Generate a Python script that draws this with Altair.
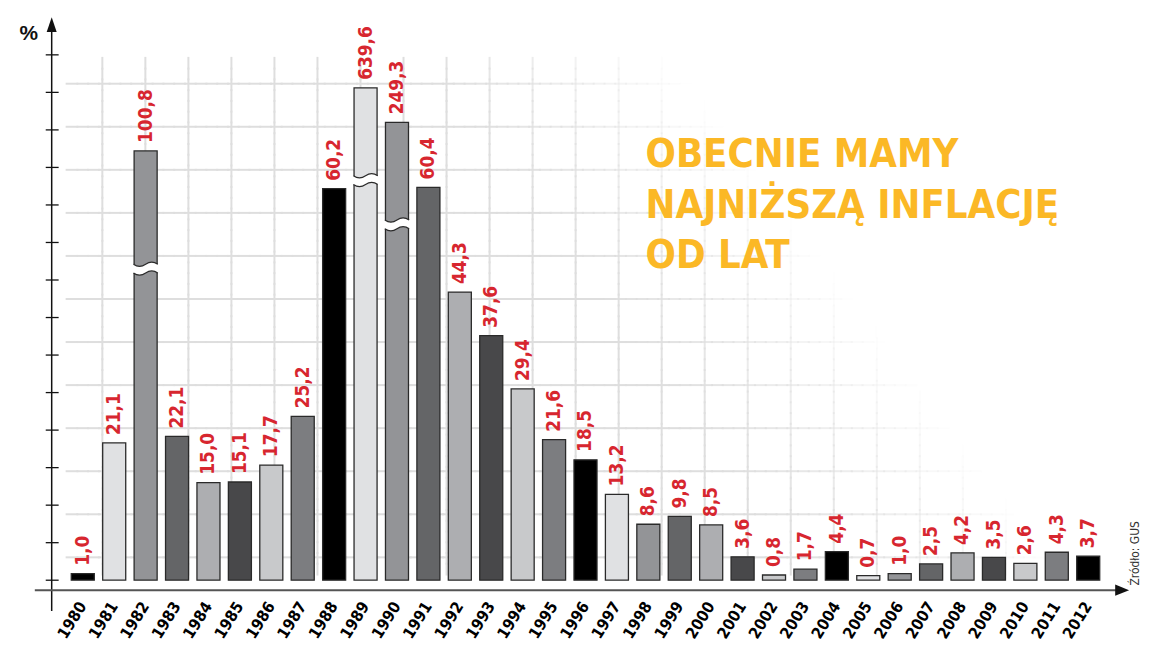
import altair as alt
import pandas as pd

# ---------------- data ----------------
years = ["1980", "1981", "1982", "1983", "1984", "1985", "1986", "1987", "1988", "1989",
         "1990", "1991", "1992", "1993", "1994", "1995", "1996", "1997", "1998", "1999",
         "2000", "2001", "2002", "2003", "2004", "2005", "2006", "2007", "2008", "2009",
         "2010", "2011", "2012"]
values = [1.0, 21.1, 100.8, 22.1, 15.0, 15.1, 17.7, 25.2, 60.2, 639.6,
          249.3, 60.4, 44.3, 37.6, 29.4, 21.6, 18.5, 13.2, 8.6, 9.8,
          8.5, 3.6, 0.8, 1.7, 4.4, 0.7, 1.0, 2.5, 4.2, 3.5,
          2.6, 4.3, 3.7]
# broken (shortened) bars: drawn height and the level of the break
broken_years = ["1982", "1989", "1990"]
broken_drawn = [66.0, 75.7, 70.4]
broken_at = [47.9, 61.5, 54.7]

palette = ["#000000", "#e0e1e3", "#939497", "#646567",
           "#adaeb1", "#48484a", "#c8c9cb", "#7c7d80"]

title_text = "OBECNIE MAMY\nNAJNIŻSZĄ INFLACJĘ\nOD LAT"
source_text = "Źródło: GUS"

# ---------------- layout ----------------
W, H = 1085, 577
NARROW = "DejaVu Sans Condensed, Liberation Sans Narrow, sans-serif"
RED = "#d7262f"

drawn_map = dict(zip(broken_years, broken_drawn))
df = pd.DataFrame({
    "year": years,
    "value": values,
    "drawn": [drawn_map.get(y, v) for y, v in zip(years, values)],
    "fill": [palette[i % len(palette)] for i in range(len(years))],
    "label": [f"{v:.1f}".replace(".", ",") for v in values],
})
df_breaks = pd.DataFrame({"year": broken_years, "at": broken_at})

x_scale = alt.Scale(type="band", domain=years, paddingInner=0.267, paddingOuter=0.779, align=0.40)
y_scale = alt.Scale(domain=[-1.527, 86.56], nice=False, zero=False)

# ---------------- decorative background grid (fading to the upper right) ----------------
GS = 43.33
gx_dom = [-51 / GS, (W - 51) / GS]
gy_dom = [-67 / 43.36, (H - 67) / 43.36]


def grid_opacity(c, r):
    f = 43.33 * c - 597 - 32.74 * r
    return max(0.0, min(1.0, -f / 260.0))


segs = []
step = 0.25
for r in range(12):
    c = -0.83
    while c < 23.5:
        c1 = min(c + step, 23.5)
        op = grid_opacity((c + c1) / 2, r)
        if op > 0.02:
            segs.append({"x": c, "x2": c1, "y": r, "y2": r, "op": op})
        c = c1
for c in range(23):
    r = -0.6
    while r < 11.4:
        r1 = min(r + step, 11.4)
        op = grid_opacity(c, (r + r1) / 2)
        if op > 0.02:
            segs.append({"x": c, "x2": c, "y": r, "y2": r1, "op": op})
        r = r1
df_grid = pd.DataFrame(segs)

grid = alt.Chart(df_grid).mark_rule(color="#dedede", strokeWidth=2, strokeCap="square").encode(
    x=alt.X("x:Q", scale=alt.Scale(domain=gx_dom, nice=False, zero=False), axis=None),
    x2="x2:Q",
    y=alt.Y("y:Q", scale=alt.Scale(domain=gy_dom, nice=False, zero=False, reverse=True), axis=None),
    y2="y2:Q",
    opacity=alt.Opacity("op:Q", scale=None),
)

# ---------------- axes (drawn) ----------------
one = pd.DataFrame({"a": [0]})
ticks = alt.Chart(pd.DataFrame({"k": list(range(15))})).mark_rule(color="#111", strokeWidth=1.3).encode(
    x=alt.value(-6), x2=alt.value(7),
    y=alt.Y("k:Q", scale=alt.Scale(domain=[-0.2646, 15.004], nice=False, zero=False), axis=None),
)
y_line = alt.Chart(one).mark_rule(color="#111", strokeWidth=1.5).encode(
    x=alt.value(0), y=alt.value(14), y2=alt.value(598))
x_line = alt.Chart(one).mark_rule(color="#555", strokeWidth=2).encode(
    x=alt.value(-17), x2=alt.value(1072), y=alt.value(577))
up_arrow = alt.Chart(one).mark_point(shape="M0,-1L0.67,1L-0.67,1Z", filled=True, color="#111",
                                     opacity=1, size=225).encode(x=alt.value(0), y=alt.value(7.5))
right_arrow = alt.Chart(one).mark_point(shape="M1,0L-1,0.8L-1,-0.8Z", filled=True, color="#111",
                                        opacity=1, size=196).encode(x=alt.value(1078), y=alt.value(577))

# ---------------- bars ----------------
bars = alt.Chart(df).mark_bar(stroke="#2a2a2a", strokeWidth=1.3).encode(
    x=alt.X("year:N", scale=x_scale, sort=years, title=None,
            axis=alt.Axis(labelAngle=-58, labelAlign="right", labelBaseline="middle",
                          labelFont=NARROW, labelFontSize=16, labelFontWeight="bold",
                          labelColor="#000", domain=False, ticks=False, labelPadding=13,
                          labelOverlap=False, grid=False)),
    y=alt.Y("drawn:Q", scale=y_scale, axis=None),
    y2=alt.datum(0),
    fill=alt.Fill("fill:N", scale=None),
)

fill_path = ("M-1.12,-0.36 L-1,-0.36 Q-0.5,-0.01 0,-0.36 Q0.5,-0.71 1,-0.36 L1.12,-0.36 "
             "L1.12,0.36 L1,0.36 Q0.5,0.01 0,0.36 Q-0.5,0.71 -1,0.36 L-1.12,0.36 Z")
line_path = ("M-1,-0.36 Q-0.5,-0.01 0,-0.36 Q0.5,-0.71 1,-0.36 "
             "M-1,0.36 Q-0.5,0.71 0,0.36 Q0.5,0.01 1,0.36")

break_fill = alt.Chart(df_breaks).mark_point(shape=fill_path, filled=True, fill="white",
                                             strokeWidth=0, opacity=1, size=600).encode(
    x=alt.X("year:N", scale=x_scale, axis=None),
    y=alt.Y("at:Q", scale=y_scale, axis=None),
)
break_lines = alt.Chart(df_breaks).mark_point(shape=line_path, filled=False, color="#2a2a2a",
                                              strokeWidth=1.2, opacity=1, size=600).encode(
    x=alt.X("year:N", scale=x_scale, axis=None),
    y=alt.Y("at:Q", scale=y_scale, axis=None),
)

labels = alt.Chart(df).mark_text(angle=270, align="left", baseline="middle", dx=8,
                                 font=NARROW, fontSize=19, fontWeight="bold", color=RED).encode(
    x=alt.X("year:N", scale=x_scale, axis=None),
    y=alt.Y("drawn:Q", scale=y_scale, axis=None),
    text="label:N",
)

# ---------------- texts ----------------
pct = alt.Chart(one).mark_text(text="%", font="Liberation Sans, Arial, sans-serif", fontSize=21,
                               fontWeight="bold", color="#111", align="center", baseline="middle").encode(
    x=alt.value(-23), y=alt.value(17))
headline = alt.Chart(one).mark_text(text=title_text, lineBreak="\n", font=NARROW, fontSize=40,
                                    fontWeight="bold", color="#fbb826", align="left",
                                    baseline="alphabetic", lineHeight=51).encode(
    x=alt.value(598), y=alt.value(151))
source = alt.Chart(one).mark_text(text=source_text, font=NARROW, fontSize=12, color="#333",
                                  angle=270, align="center", baseline="middle").encode(
    x=alt.value(1091), y=alt.value(540))

chart = alt.layer(
    grid, ticks, y_line, x_line, up_arrow, right_arrow,
    bars, break_fill, break_lines, labels, pct, headline, source,
).resolve_scale(x="independent", y="independent").properties(
    width=W, height=H,
    autosize=alt.AutoSizeParams(type="none"),
    padding={"left": 44, "top": 7, "right": 14, "bottom": 52},
    background="white",
).configure_view(stroke=None)

chart.save("out.html", embed_options={"renderer": "svg", "actions": False})
